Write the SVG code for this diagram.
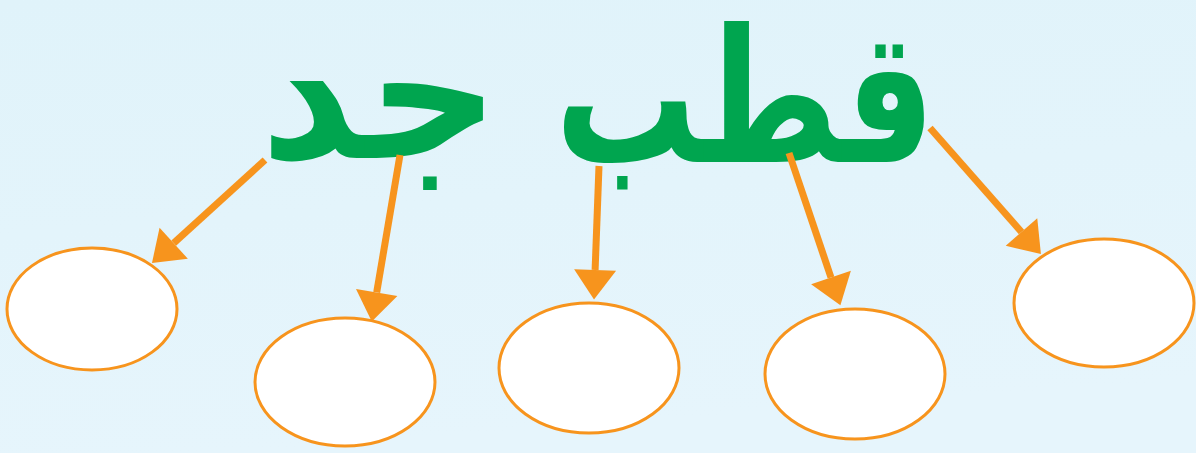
<svg xmlns="http://www.w3.org/2000/svg" width="1196" height="453" viewBox="0 0 1196 453">
<defs>
<linearGradient id="bg" x1="0" y1="0" x2="0.2" y2="1">
<stop offset="0" stop-color="#E0F3FA"/>
<stop offset="1" stop-color="#E6F5FC"/>
</linearGradient>
<marker id="ah" markerUnits="userSpaceOnUse" markerWidth="30" markerHeight="42" viewBox="0 0 28 40" refX="0" refY="20" orient="auto" overflow="visible">
<path d="M0,0 L28,20 L0,40 z" fill="#F7941D"/>
</marker>
</defs>
<style>
.word{font-family:"DejaVu Sans",sans-serif;font-weight:bold;fill:#00A54F;text-anchor:middle}
.node{fill:#FFFFFF;stroke:#F7941D;stroke-width:3}
.conn{stroke:#F7941D;stroke-width:7;fill:none;marker-end:url(#ah)}
</style>
<rect x="0" y="0" width="1196" height="453" fill="url(#bg)"/>
<g id="title">
<text class="word" x="380" y="158" font-size="185" textLength="240" lengthAdjust="spacingAndGlyphs">جد</text>
<text class="word" x="745" y="162" font-size="185" textLength="380" lengthAdjust="spacingAndGlyphs">قطب</text>
</g>
<g id="connectors">
<line class="conn" x1="265" y1="160" x2="173.7" y2="243.2"/>
<line class="conn" x1="400" y1="155" x2="376.7" y2="292.4"/>
<line class="conn" x1="599" y1="166" x2="595.1" y2="270"/>
<line class="conn" x1="789" y1="153" x2="831" y2="277.5"/>
<line class="conn" x1="930" y1="128" x2="1021.5" y2="232"/>
</g>
<g id="node1"><ellipse class="node" cx="92" cy="309" rx="85" ry="61"/></g>
<g id="node2"><ellipse class="node" cx="345" cy="382" rx="90" ry="64"/></g>
<g id="node3"><ellipse class="node" cx="589" cy="368" rx="90" ry="65"/></g>
<g id="node4"><ellipse class="node" cx="855" cy="374" rx="90" ry="65"/></g>
<g id="node5"><ellipse class="node" cx="1104" cy="303" rx="90" ry="64"/></g>
</svg>
